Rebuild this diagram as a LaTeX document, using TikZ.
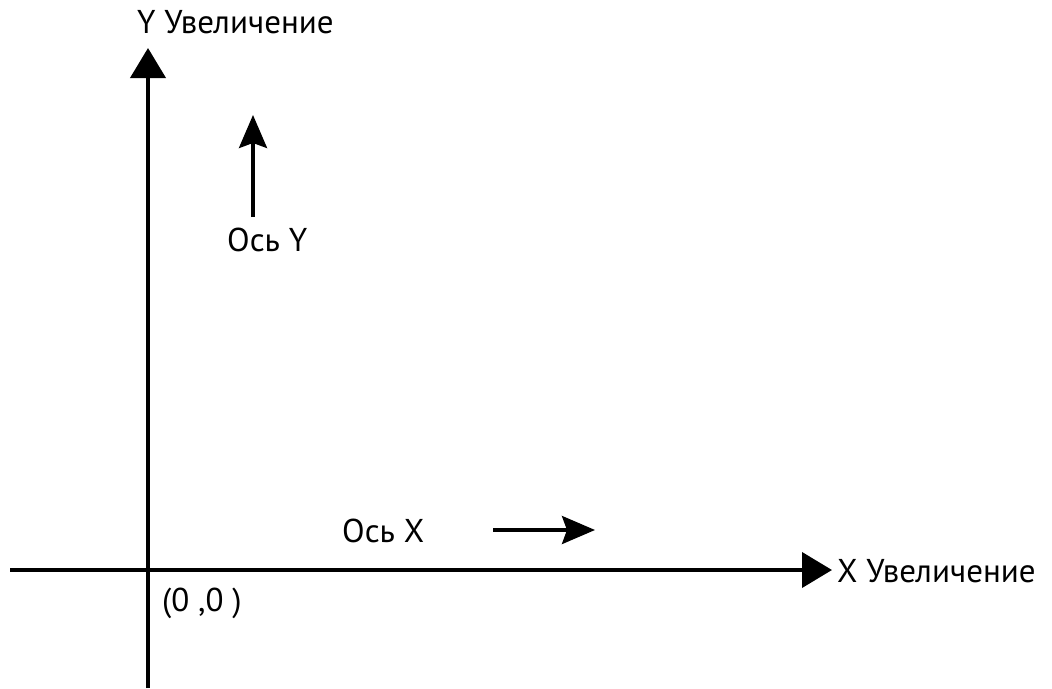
\documentclass[tikz,border=0pt]{standalone}
\usepackage{fontspec}
\setmainfont{PT Sans}
\usetikzlibrary{arrows.meta}
\tikzset{
  axis/.style={line width=4pt, -{Triangle[length=30pt,width=35pt]}},
  dirarrow/.style={line width=3.5pt, -{Stealth[length=33pt,width=28pt,inset=5pt]}},
  lbl/.style={inner sep=0pt, anchor=base west, font=\fontsize{33}{38}\selectfont}
}
\begin{document}
\begin{tikzpicture}[x=1pt,y=-1pt]
  \useasboundingbox (0,0) rectangle (1052,688);
  % axes
  \coordinate (xstart) at (10,570);
  \coordinate (xend) at (832,570);
  \coordinate (ystart) at (148,688);
  \coordinate (yend) at (148,48);
  \draw[axis] (xstart) -- (xend);
  \draw[axis] (ystart) -- (yend);
  % axis labels
  \node[lbl] (ylabel) at (137,33) {Y Увеличение};
  \node[lbl] (xlabel) at (837,582) {X Увеличение};
  \node[lbl] (origin) at (162,611) {(0 ,0 )};
  % direction hints
  \coordinate (ya) at (253,217);
  \coordinate (yb) at (253,115);
  \draw[dirarrow] (ya) -- (yb);
  \node[lbl] (ylbl) at (227,251) {Ось Y};
  \coordinate (xa) at (493,530);
  \coordinate (xb) at (595,530);
  \draw[dirarrow] (xa) -- (xb);
  \node[lbl] (xlbl) at (342,542) {Ось X};
\end{tikzpicture}
\end{document}
